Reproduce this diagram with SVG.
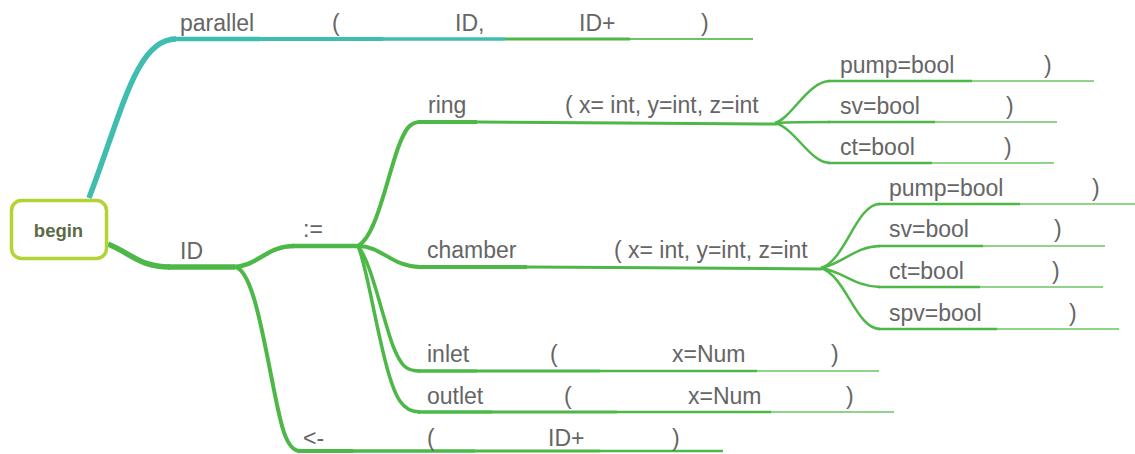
<svg xmlns="http://www.w3.org/2000/svg" width="1135" height="454" viewBox="0 0 1135 454">
  <style>
    .t { font-family: "Liberation Sans", Arial, sans-serif; font-size: 23px; fill: #656565; }
    .root { font-family: "Liberation Sans", Arial, sans-serif; font-size: 18.5px; font-weight: bold; fill: #5d6a46; }
    .teal { fill: none; stroke: #3fbdaf; stroke-linecap: butt; }
    .grn { fill: none; stroke: #4db848; stroke-linecap: butt; }
    .lite { fill: none; stroke: #6cc565; stroke-linecap: butt; }
    .w5 { stroke-width: 5.5; }
    .w45 { stroke-width: 4.5; }
    .w4 { stroke-width: 4; }
    .w35 { stroke-width: 3.5; }
    .w3 { stroke-width: 3; }
    .w25 { stroke-width: 2.5; }
    .w2 { stroke-width: 2; }
    .w15 { stroke-width: 1.6; }
  </style>

  <!-- branch curves between topics -->
  <g id="connectors" stroke-linecap="round">
    <path class="teal w5" d="M89,198 C122,112 136,39 176,39"/>
    <path class="grn w5" d="M108,244 C132,254 140,267 170,267" stroke-linecap="butt"/>
    <path class="grn w45" d="M233,267 C257,267 266,246 294,246"/>
    <path class="grn w4" d="M235,267 C252,270 262,330 272,380 C280,420 285,451 300,451"/>
    <path class="grn w4" d="M358,246 C376,236 386,182 398,148 C405,129 410,122 420,122"/>
    <path class="grn w4" d="M358,246 C382,246 392,267 420,267"/>
    <path class="grn w35" d="M358,246 C371,262 381,312 393,346 C401,366 406,371 420,371"/>
    <path class="grn w35" d="M358,246 C366,264 373,312 385,360 C395,400 403,412 420,412"/>
    <!-- ring fields -->
    <path class="grn w25" d="M775,123 C792,118 808,81 830,81"/>
    <path class="grn w25" d="M775,123 C795,122 810,122 830,122"/>
    <path class="grn w25" d="M775,123 C795,128 810,163 830,163"/>
    <!-- chamber fields -->
    <path class="grn w25" d="M821,268 C846,260 856,204 880,204"/>
    <path class="grn w25" d="M821,268 C842,264 856,246 880,246"/>
    <path class="grn w25" d="M821,268 C842,271 856,287 880,287"/>
    <path class="grn w25" d="M821,268 C846,276 856,329 880,329"/>
  </g>

  <g id="begin">
    <rect x="11.5" y="200.5" width="95" height="58" rx="10" ry="10" fill="#fff" stroke="#b3d334" stroke-width="3.5"/>
    <text class="root" x="58.5" y="237" text-anchor="middle">begin</text>
  </g>

  <!-- parallel ( ID, ID+ ) -->
  <g id="parallel">
    <path class="teal w45" d="M170,39 H260"/>
    <text class="t" x="180" y="31">parallel</text>
  </g>
  <g id="parallel-open">
    <path class="teal w4" d="M260,39 H383"/>
    <text class="t" x="332" y="31">(</text>
  </g>
  <g id="parallel-id">
    <path class="teal w35" d="M383,39 H505"/>
    <text class="t" x="455" y="31">ID,</text>
  </g>
  <g id="parallel-ids">
    <path class="grn w3" d="M505,39 H630"/>
    <text class="t" x="579" y="31">ID+</text>
  </g>
  <g id="parallel-close">
    <path class="lite w2" d="M630,39 H753"/>
    <text class="t" x="701" y="31">)</text>
  </g>

  <!-- ID := / <- -->
  <g id="id">
    <path class="grn w5" d="M168,267 H235"/>
    <text class="t" x="180" y="259">ID</text>
  </g>
  <g id="assign">
    <path class="grn w45" d="M292,246 H359"/>
    <text class="t" x="303" y="237">:=</text>
  </g>
  <g id="link">
    <path class="grn w4" d="M298,451 H353"/>
    <text class="t" x="303" y="446">&lt;-</text>
  </g>
  <g id="link-open">
    <path class="grn w35" d="M353,451 H475"/>
    <text class="t" x="427" y="446">(</text>
  </g>
  <g id="link-ids">
    <path class="grn w3" d="M475,451 H600"/>
    <text class="t" x="548" y="446">ID+</text>
  </g>
  <g id="link-close">
    <path class="grn w25" d="M600,451 H723"/>
    <text class="t" x="672" y="446">)</text>
  </g>

  <!-- ring -->
  <g id="ring">
    <path class="grn w4" d="M418,122 H477"/>
    <text class="t" x="428" y="113">ring</text>
  </g>
  <g id="ring-coords">
    <path class="grn w3" d="M477,122 C560,122 700,124 777,124"/>
    <text class="t" x="565" y="113">( x= int, y=int, z=int</text>
  </g>
  <g id="ring-pump">
    <path class="grn w25" d="M828,81 H972"/>
    <path class="lite w15" d="M972,81 H1094"/>
    <text class="t" x="840" y="73">pump=bool</text>
    <text class="t" x="1044" y="73">)</text>
  </g>
  <g id="ring-sv">
    <path class="grn w25" d="M828,122 H935"/>
    <path class="lite w15" d="M935,122 H1057"/>
    <text class="t" x="840" y="114">sv=bool</text>
    <text class="t" x="1006" y="114">)</text>
  </g>
  <g id="ring-ct">
    <path class="grn w25" d="M828,163 H932"/>
    <path class="lite w15" d="M932,163 H1054"/>
    <text class="t" x="840" y="155">ct=bool</text>
    <text class="t" x="1004" y="155">)</text>
  </g>

  <!-- chamber -->
  <g id="chamber">
    <path class="grn w4" d="M418,267 H527"/>
    <text class="t" x="427" y="258">chamber</text>
  </g>
  <g id="chamber-coords">
    <path class="grn w3" d="M527,267 C620,267 740,269 822,269"/>
    <text class="t" x="614" y="258">( x= int, y=int, z=int</text>
  </g>
  <g id="chamber-pump">
    <path class="grn w25" d="M878,204 H1020"/>
    <path class="lite w15" d="M1020,204 H1142"/>
    <text class="t" x="889" y="196">pump=bool</text>
    <text class="t" x="1092" y="196">)</text>
  </g>
  <g id="chamber-sv">
    <path class="grn w25" d="M878,246 H983"/>
    <path class="lite w15" d="M983,246 H1105"/>
    <text class="t" x="889" y="237">sv=bool</text>
    <text class="t" x="1054" y="237">)</text>
  </g>
  <g id="chamber-ct">
    <path class="grn w25" d="M878,287 H980"/>
    <path class="lite w15" d="M980,287 H1103"/>
    <text class="t" x="889" y="279">ct=bool</text>
    <text class="t" x="1052" y="279">)</text>
  </g>
  <g id="chamber-spv">
    <path class="grn w25" d="M878,329 H997"/>
    <path class="lite w15" d="M997,329 H1119"/>
    <text class="t" x="889" y="321">spv=bool</text>
    <text class="t" x="1069" y="321">)</text>
  </g>

  <!-- inlet ( x=Num ) -->
  <g id="inlet">
    <path class="grn w35" d="M418,371 H477"/>
    <text class="t" x="427" y="362">inlet</text>
  </g>
  <g id="inlet-open">
    <path class="grn w3" d="M477,371 H600"/>
    <text class="t" x="550" y="362">(</text>
  </g>
  <g id="inlet-num">
    <path class="grn w25" d="M600,371 H757"/>
    <text class="t" x="672" y="362">x=Num</text>
  </g>
  <g id="inlet-close">
    <path class="lite w15" d="M757,371 H879"/>
    <text class="t" x="831" y="362">)</text>
  </g>

  <!-- outlet ( x=Num ) -->
  <g id="outlet">
    <path class="grn w35" d="M418,412 H492"/>
    <text class="t" x="427" y="404">outlet</text>
  </g>
  <g id="outlet-open">
    <path class="grn w3" d="M492,412 H617"/>
    <text class="t" x="564" y="404">(</text>
  </g>
  <g id="outlet-num">
    <path class="grn w25" d="M617,412 H771"/>
    <text class="t" x="688" y="404">x=Num</text>
  </g>
  <g id="outlet-close">
    <path class="lite w15" d="M771,412 H894"/>
    <text class="t" x="846" y="404">)</text>
  </g>
</svg>
